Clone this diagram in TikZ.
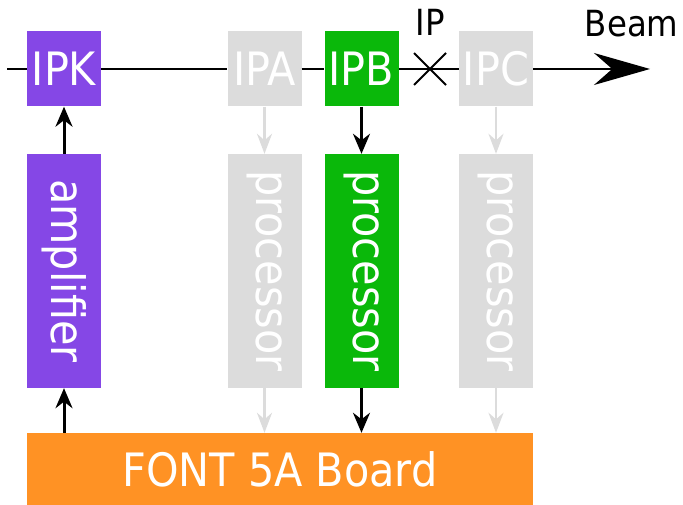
\documentclass[tikz,border=0pt]{standalone}
\usepackage{fontspec}
\setmainfont{DejaVu Sans Condensed}
\usetikzlibrary{arrows.meta,shapes.misc}
\definecolor{kickpurple}{RGB}{133,71,230}
\definecolor{bpmgreen}{RGB}{10,184,10}
\definecolor{offgray}{RGB}{220,220,220}
\definecolor{boardorange}{RGB}{255,146,36}
\tikzset{
  box/.style={inner sep=0pt, text=white, font=\fontsize{46}{46}\selectfont},
  ipbox/.style={box, minimum width=74pt, minimum height=75pt},
  longbox/.style={box, minimum width=234pt, minimum height=74pt, rotate=-90},
  sig/.style={-{Stealth[length=20pt,width=17pt]}, line width=3pt},
  dimsig/.style={draw=offgray, -{Stealth[length=20pt,width=15pt,color=offgray]}, line width=2.5pt}
}

\begin{document}
\begin{tikzpicture}[x=1pt,y=-1pt]
  \useasboundingbox (0,0) rectangle (683,505);

  % Beam line pickups
  \node[ipbox, fill=kickpurple] (IPK) at (64,69) {IPK};
  \node[ipbox, fill=offgray] (IPA) at (264.5,69) {IPA};
  \node[ipbox, fill=bpmgreen] (IPB) at (361.5,69) {IPB};
  \node[ipbox, fill=offgray] (IPC) at (496,69) {IPC};
  \node[cross out, draw, line width=2pt, minimum size=30pt, inner sep=0pt] (ip) at (430,69) {};
  \node[font=\fontsize{36}{36}\selectfont] (iplabel) at (430,22) {IP};
  \coordinate (start) at (7,69);
  \coordinate (end) at (650,69);
  \node[font=\fontsize{36}{36}\selectfont, anchor=east] (beam) at (682,24) {Beam};

  % Beam
  \draw[line width=2pt] (start) -- (IPK) -- (IPA) -- (IPB) -- (IPC);
  \draw[line width=2pt, -{Stealth[length=56pt,width=32pt]}] (IPC) -- (end);

  % Electronics
  \node[longbox, fill=kickpurple] (amp) at (64,271) {amplifier};
  \node[longbox, fill=offgray] (procA) at (264.5,271) {processor};
  \node[longbox, fill=bpmgreen] (procB) at (361.5,271) {processor};
  \node[longbox, fill=offgray] (procC) at (496,271) {processor};
  \node[box, fill=boardorange, minimum width=506pt, minimum height=72pt] (board) at (280,469) {FONT 5A Board};

  % Signals
  \draw[sig] (board.north -| amp) -- (amp);
  \draw[sig] (amp) -- (IPK);
  \draw[dimsig] (IPA) -- (procA);
  \draw[dimsig] (procA) -- (board.north -| procA);
  \draw[sig] (IPB) -- (procB);
  \draw[sig] (procB) -- (board.north -| procB);
  \draw[dimsig] (IPC) -- (procC);
  \draw[dimsig] (procC) -- (board.north -| procC);
\end{tikzpicture}
\end{document}
